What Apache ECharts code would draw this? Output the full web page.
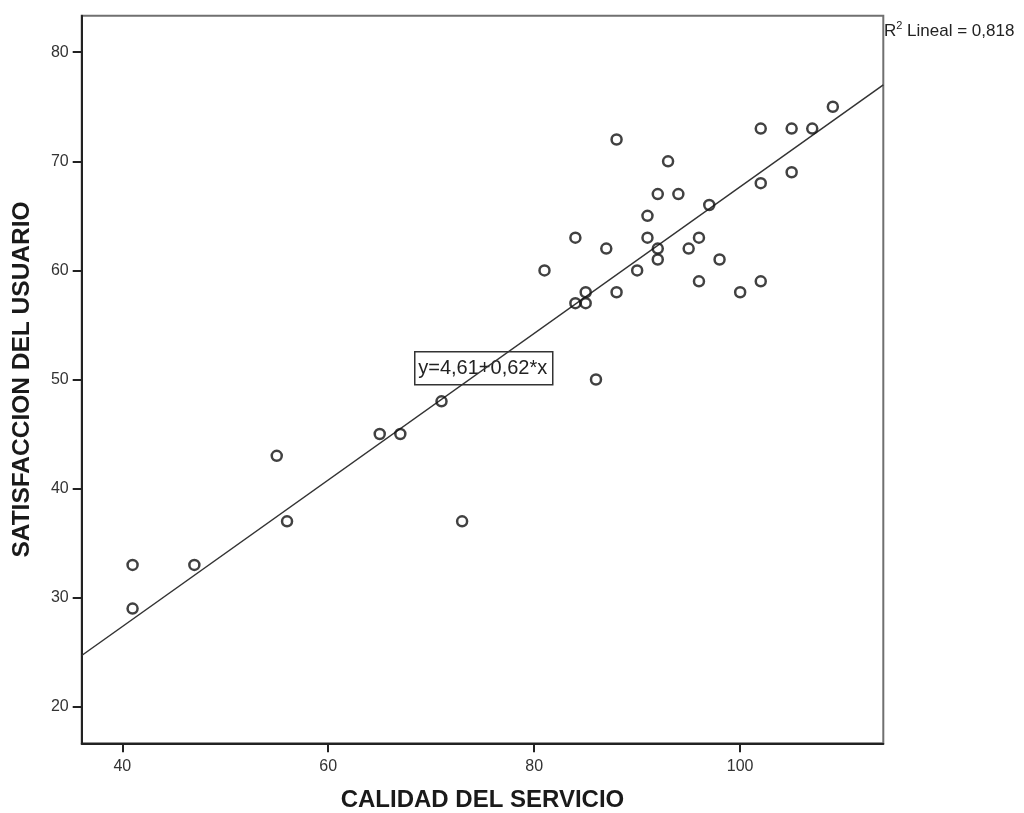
<!DOCTYPE html>
<html>
<head>
<meta charset="utf-8">
<script src="https://cdn.jsdelivr.net/npm/echarts@6/dist/echarts.min.js"></script>
<style>
html,body{margin:0;padding:0;background:#fff;}
#c{width:1024px;height:813px;}
</style>
</head>
<body>
<div id="c"></div>
<script>
// CALIDAD DEL SERVICIO (x) and SATISFACCION DEL USUARIO (y)
const calidad      = [41,41,47,55,56,65,67,71,73,81,84,84,85,85,86,87,88,88,90,91,91,92,92,92,93,94,95,96,96,97,98,100,102,102,102,105,105,107,109];
const satisfaccion = [33,29,33,43,37,45,45,48,37,60,63,57,58,57,50,62,72,58,60,65,63,67,62,61,70,67,62,63,59,66,61,58,73,68,59,73,69,73,75];
// Fit line as drawn (end points at the frame edges)
const fitX = [36.06, 113.9];
const fitY = [24.7, 77.0];
const xTicks = [40, 60, 80, 100];
const yTicks = [20, 30, 40, 50, 60, 70, 80];
const xRange = [36.06, 113.9];
const yRange = [16.65, 83.35];
const equationText = 'y=4,61+0,62*x';
const r2Text = '0,818';

const chart = echarts.init(document.getElementById('c'), null, {renderer: 'canvas'});
const font = 'Liberation Sans, Arial, sans-serif';
chart.setOption({
  animation: false,
  backgroundColor: '#fff',
  grid: {left: 81.7, top: 15.7, right: 140.7, bottom: 69.7, outerBoundsMode: 'none', containLabel: false, show: true, borderColor: '#707070', borderWidth: 2, backgroundColor: '#fff'},
  xAxis: {
    type: 'value', min: xRange[0], max: xRange[1],
    name: 'CALIDAD DEL SERVICIO', nameLocation: 'middle', nameGap: 45,
    nameTextStyle: {fontFamily: font, fontWeight: 'bold', fontSize: 24, color: '#1a1a1a'},
    axisLine: {show: true, onZero: false, lineStyle: {color: '#222', width: 2}},
    axisTick: {show: true, length: 9, customValues: xTicks, lineStyle: {color: '#222', width: 2}},
    axisLabel: {customValues: xTicks, fontFamily: font, fontSize: 16, color: '#333', margin: 15},
    splitLine: {show: false}
  },
  yAxis: {
    type: 'value', min: yRange[0], max: yRange[1],
    name: 'SATISFACCION DEL USUARIO', nameLocation: 'middle', nameGap: 47, nameRotate: 90,
    nameTextStyle: {fontFamily: font, fontWeight: 'bold', fontSize: 24.5, color: '#1a1a1a'},
    axisLine: {show: true, onZero: false, lineStyle: {color: '#222', width: 2}},
    axisTick: {show: true, length: 9, customValues: yTicks, lineStyle: {color: '#222', width: 2}},
    axisLabel: {customValues: yTicks, fontFamily: font, fontSize: 16, color: '#333', margin: 13},
    splitLine: {show: false}
  },
  series: [
    {
      type: 'line', data: fitX.map((x, i) => [x, fitY[i]]),
      symbol: 'none', lineStyle: {color: '#333', width: 1.5}, z: 1, silent: true
    },
    {
      type: 'scatter', data: calidad.map((x, i) => [x, satisfaccion[i]]),
      symbol: 'circle', symbolSize: 10,
      itemStyle: {color: 'rgba(255,255,255,0)', borderColor: '#111', borderWidth: 2.5}, z: 3
    }
  ],
  graphic: [
    {
      type: 'group', left: 414, top: 351, z: 10,
      children: [
        {type: 'rect', shape: {x: 0, y: 0, width: 138, height: 33}, style: {fill: '#fff', stroke: '#333', lineWidth: 1.5}},
        {type: 'text', x: 68, y: 17, style: {text: equationText, fontFamily: font, fontSize: 20, fill: '#222', align: 'center', verticalAlign: 'middle'}}
      ]
    },
    {
      type: 'text', left: 884, top: 20, z: 10,
      style: {
        text: '{r|R}{s|2}{t| Lineal = ' + r2Text + '}',
        rich: {
          r: {fontFamily: font, fontSize: 17, fill: '#222', verticalAlign: 'bottom', lineHeight: 20},
          s: {fontFamily: font, fontSize: 11, fill: '#222', verticalAlign: 'top', padding: [0,0,8,0], lineHeight: 20},
          t: {fontFamily: font, fontSize: 17, fill: '#222', verticalAlign: 'bottom', lineHeight: 20}
        }
      }
    }
  ]
});
</script>
</body>
</html>
